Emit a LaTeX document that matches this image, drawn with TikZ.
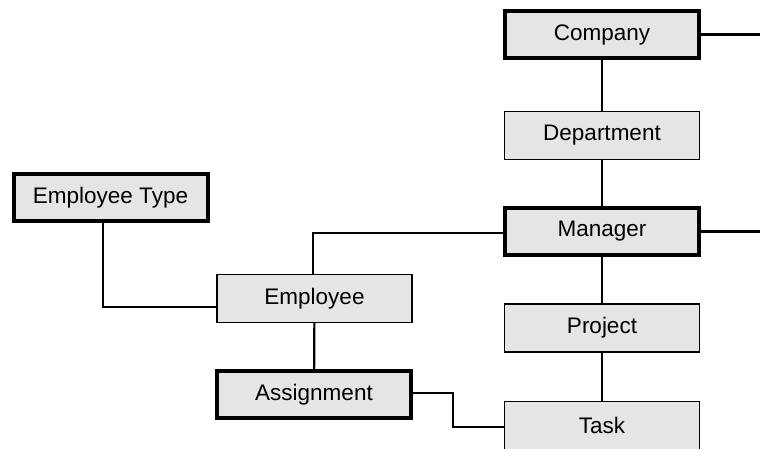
\documentclass[tikz,border=0pt]{standalone}
\usepackage{fontspec}
\setmainfont{Liberation Sans}
\definecolor{boxfill}{HTML}{E5E5E5}
\begin{document}
\begin{tikzpicture}[x=1pt,y=-1pt,
  every node/.style={font=\fontsize{22.5}{27}\selectfont},
  thinbox/.style={draw=black, fill=boxfill, line width=1.5pt, minimum width=195pt, minimum height=48pt, inner sep=0pt, outer sep=0pt},
  thickbox/.style={draw=black, fill=boxfill, line width=4pt, minimum width=194pt, minimum height=47pt, inner sep=0pt, outer sep=0pt},
  link/.style={draw=black, line width=2.2pt}]
\useasboundingbox (0,0) rectangle (760,449);
\node[thickbox] (company) at (602,34.5) {Company};
\node[thinbox] (dept) at (602,135.5) {Department};
\node[thickbox] (mgr) at (602,231.5) {Manager};
\node[thinbox] (proj) at (602,328) {Project};
\node[thinbox] (task) at (602,425.5) {Task};
\node[thickbox] (etype) at (110.5,197.5) {Employee Type};
\node[thinbox] (emp) at (314.5,298.5) {Employee};
\node[thickbox] (asg) at (314,394.5) {Assignment};
\coordinate (cright) at (760,34.5);
\coordinate (mright) at (760,231.5);
\path[link] (company) -- (dept);
\path[link] (dept) -- (mgr);
\path[link] (mgr) -- (proj);
\path[link] (proj) -- (task);
\path[link] (company.east) -- (cright);
\path[link] (mgr.east) -- (mright);
\path[link] ([xshift=-7.5pt]etype.south) |- ([yshift=-8.5pt]emp.west);
\path[link] ([xshift=-1.5pt]emp.north) |- ([yshift=-1.5pt]mgr.west);
\path[link] (emp) -- (asg);
\path[link] ([yshift=1.5pt]asg.east) -- ++(42,0) |- ([yshift=-1.5pt]task.west);
\end{tikzpicture}
\end{document}
